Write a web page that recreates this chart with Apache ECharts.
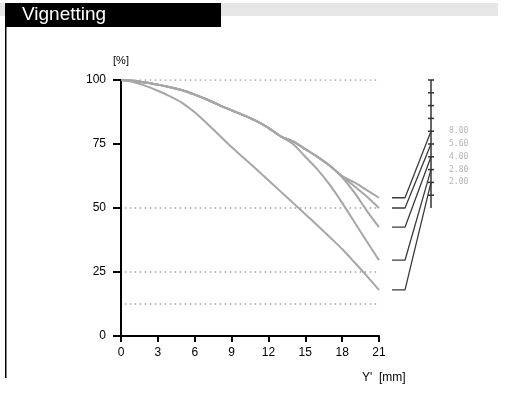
<!DOCTYPE html>
<html>
<head>
<meta charset="utf-8">
<script src="https://cdn.jsdelivr.net/npm/echarts@6/dist/echarts.min.js"></script>
<style>html,body{margin:0;padding:0;background:#fff}#c{width:512px;height:395px}</style>
</head>
<body>
<div id="c"></div>
<script>
// Image height Y' in mm
const xPos = [0,1,2,3,4,5,6,7,8,9,10,11,12,13,14,15,16,17,18,19,20,21];
// Relative illumination [%] per aperture
const f800 = [100,99.7,99,98.2,97.2,96,94.3,92.4,90.2,88.2,86.2,84,81.3,78,76,73,70,66.5,62.5,60,57,54];
const f560 = [100,99.7,99,98.2,97.2,96,94.3,92.4,90.2,88.2,86.2,84,81.3,78,76,73,70,66.5,62.5,58.5,54.5,50];
const f400 = [100,99.7,99,98.2,97.2,96,94.3,92.4,90.2,88.2,86.2,84,81.3,78,76,73,70,66.5,62,56,49,42.5];
const f280 = [100,99.7,99,98.2,97.2,96,94.3,92.4,90.2,88.2,86.2,84,81.3,78,75,70,65,59,52,44.5,37,29.6];
const f200 = [100,99.2,97.7,95.8,93.6,91,87.4,83,78.4,73.8,69.5,65.2,60.8,56.4,52,47.6,43.2,38.6,34,28.8,23.5,18];
const apertureLabels = ['8.00','5.60','4.00','2.80','2.00'];
const scaleLevels = [80,75,70,65,60];      // where each aperture meets the key scale
const scaleTicks = [50,55,60,65,70,75,80,85,90,95,100];
const refLevels = [100,50,25,12.5];
const xTicks = [0,3,6,9,12,15,18,21];

const curves = [f800,f560,f400,f280,f200];
const FONT = "'Liberation Sans',Arial,sans-serif";

const series = [];
refLevels.forEach(v => {
  series.push({type:'line', xAxisIndex:0, yAxisIndex:0, silent:true, showSymbol:false,
    data:[[0.3,v],[21,v]], lineStyle:{color:'#9f9f9f', width:1.5, type:[1.5,3.5]}, z:1});
});
curves.forEach(c => {
  series.push({type:'line', xAxisIndex:0, yAxisIndex:0, showSymbol:false, smooth:0.3,
    data:xPos.map((x,i)=>[x,c[i]]), lineStyle:{color:'#a6a6a6', width:2}, z:2});
});
// key: stub at curve end, diagonal to scale
curves.forEach((c,k) => {
  const end = c[c.length-1];
  series.push({type:'line', xAxisIndex:1, yAxisIndex:1, showSymbol:false,
    data:[[0,end],[1,end],[3,scaleLevels[k]]], lineStyle:{color:'#3a3a3a', width:1.3}, z:3});
});
series.push({type:'line', xAxisIndex:1, yAxisIndex:1, symbol:'rect', symbolSize:[6,1.5],
  itemStyle:{color:'#333'}, lineStyle:{color:'#333', width:1.5},
  data:scaleTicks.map(v => v===50 ? {value:[3,v], symbol:'none'} : [3,v]), z:4});
series.push({type:'scatter', xAxisIndex:1, yAxisIndex:1, symbolSize:0,
  data:scaleLevels.map((v,k)=>({value:[3,v], label:{formatter:apertureLabels[k]}})),
  label:{show:true, position:'right', distance:18, color:'#a0a0a0',
    fontFamily:'DejaVu Sans Mono', fontSize:8}, z:4});

const chart = echarts.init(document.getElementById('c'), null, {renderer:'canvas'});
chart.setOption({
  animation:false,
  backgroundColor:'#fff',
  grid:[{left:121, top:80, width:258, height:256},
        {left:392, top:80, width:39, height:256}],
  xAxis:[{type:'value', gridIndex:0, min:0, max:21, interval:3,
          axisLine:{lineStyle:{color:'#000', width:2}},
          axisTick:{show:true, length:6, lineStyle:{color:'#000', width:2}},
          axisLabel:{color:'#000', fontSize:12, fontFamily:FONT, margin:11,
            customValues:xTicks},
          splitLine:{show:false}},
         {type:'value', gridIndex:1, min:0, max:3, show:false}],
  yAxis:[{type:'value', gridIndex:0, min:0, max:100, interval:25,
          name:'[%]', nameLocation:'end', nameGap:14,
          nameTextStyle:{color:'#000', fontSize:11, fontFamily:FONT, align:'center'},
          axisLine:{show:true, lineStyle:{color:'#000', width:2}},
          axisTick:{show:true, length:8, lineStyle:{color:'#000', width:2}},
          axisLabel:{color:'#000', fontSize:12, fontFamily:FONT, margin:15},
          splitLine:{show:false}},
         {type:'value', gridIndex:1, min:0, max:100, show:false}],
  graphic:[
    {type:'rect', shape:{x:0, y:3, width:498, height:13}, style:{fill:'#e6e6e6'}, z:0},
    {type:'rect', shape:{x:5, y:3, width:216, height:24}, style:{fill:'#000'}, z:1},
    {type:'text', left:22, top:5, style:{text:'Vignetting', fill:'#fff', fontSize:19,
      fontFamily:"'Liberation Sans',Arial,sans-serif"}, z:2},
    {type:'rect', shape:{x:5, y:27, width:1.5, height:351}, style:{fill:'#000'}, z:1},
    {type:'text', left:362, top:372, style:{text:"Y'  [mm]", fill:'#000', fontSize:12,
      fontFamily:FONT}, z:2}
  ],
  series:series
});
</script>
</body>
</html>
